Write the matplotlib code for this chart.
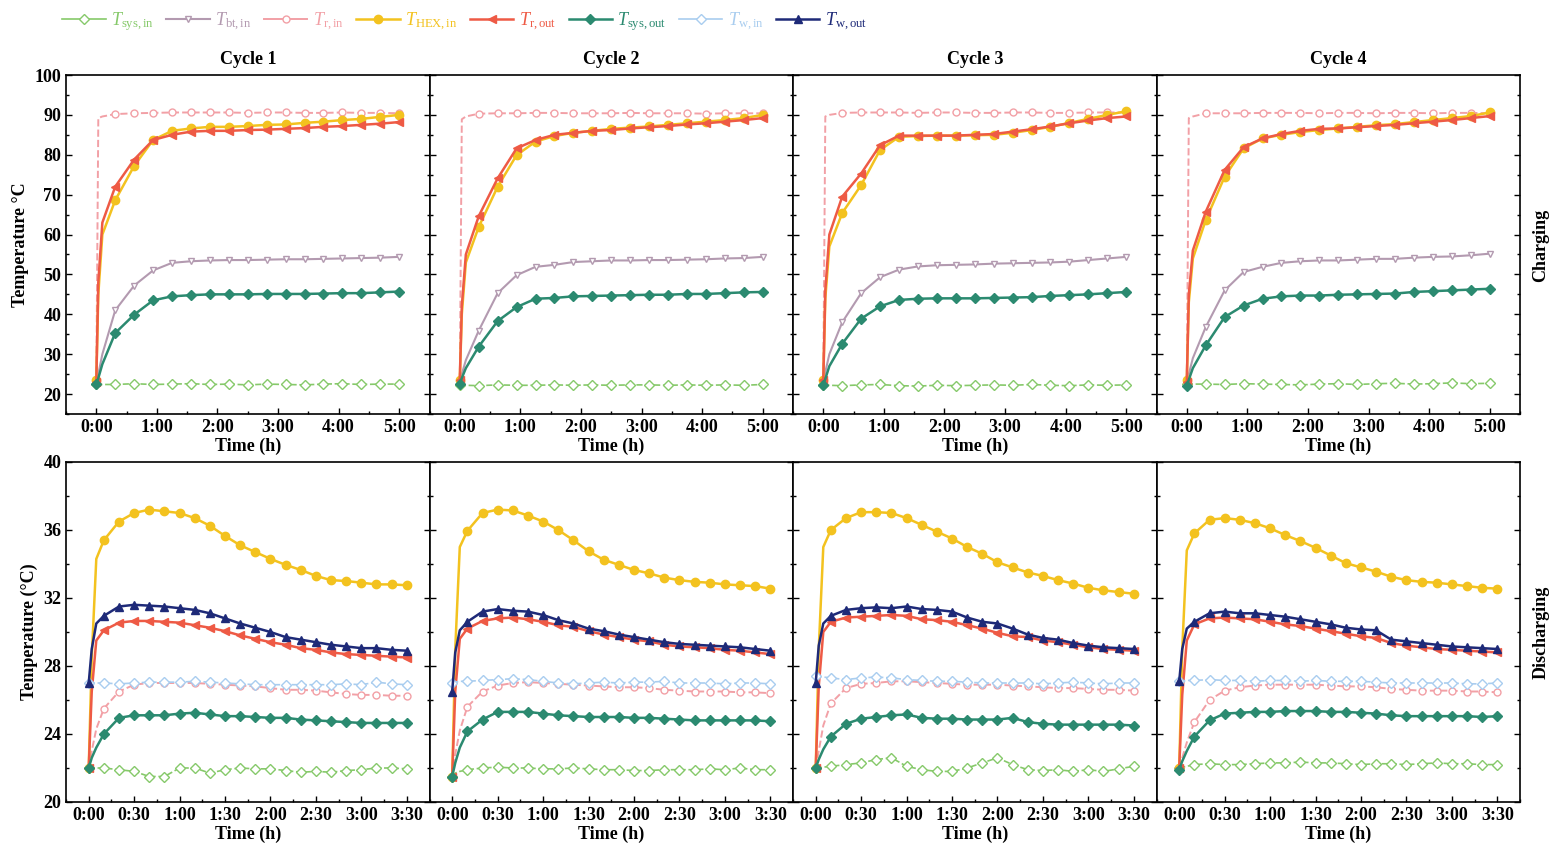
import matplotlib
matplotlib.use('Agg')
import matplotlib.pyplot as plt
from matplotlib.lines import Line2D
from matplotlib.ticker import MultipleLocator

plt.rcParams['font.family'] = ['Liberation Serif', 'DejaVu Serif']
plt.rcParams['mathtext.fontset'] = 'custom'
plt.rcParams['mathtext.rm'] = 'Liberation Serif'
plt.rcParams['mathtext.it'] = 'Liberation Serif:italic'

# ---- data (minutes, deg C) ----
CYCLES = ["Cycle 1", "Cycle 2", "Cycle 3", "Cycle 4"]

# charging: 0..300 min, markers every 18.75 min (+2 early points without marker)
TC = [0, 2, 6, 18.75, 37.5, 56.25, 75, 93.75, 112.5, 131.25, 150, 168.75,
      187.5, 206.25, 225, 243.75, 262.5, 281.25, 300]
TC_TICKS = [0, 60, 120, 180, 240, 300]
TC_LABELS = ["0:00", "1:00", "2:00", "3:00", "4:00", "5:00"]

CH_SYS_IN = [
    [22.5, 22.5, 22.4, 22.4, 22.6, 22.4, 22.5, 22.6, 22.4, 22.5, 22.3, 22.5, 22.4, 22.3, 22.5, 22.6, 22.4, 22.5, 22.5],
    [22.3, 22.3, 22.2, 22.1, 22.3, 22.2, 22.2, 22.3, 22.2, 22.3, 22.2, 22.3, 22.3, 22.2, 22.3, 22.2, 22.3, 22.2, 22.4],
    [22.3, 22.3, 22.2, 22.1, 22.3, 22.4, 22.1, 22.0, 22.2, 22.1, 22.2, 22.3, 22.2, 22.4, 22.2, 22.1, 22.3, 22.2, 22.3],
    [22.4, 22.4, 22.5, 22.5, 22.4, 22.6, 22.5, 22.4, 22.3, 22.5, 22.6, 22.4, 22.6, 22.7, 22.5, 22.6, 22.8, 22.6, 22.7],
]
CH_BT_IN = [
    [23.0, 25.0, 30.0, 41.0, 47.2, 51.0, 52.9, 53.3, 53.5, 53.6, 53.6, 53.7, 53.8, 53.8, 53.9, 54.0, 54.1, 54.2, 54.4],
    [23.0, 25.0, 28.5, 35.9, 45.3, 49.8, 51.9, 52.4, 53.1, 53.3, 53.5, 53.5, 53.6, 53.6, 53.7, 53.8, 54.0, 54.1, 54.4],
    [23.0, 25.5, 30.0, 38.0, 45.3, 49.3, 51.2, 52.0, 52.3, 52.4, 52.5, 52.7, 52.8, 52.9, 53.0, 53.2, 53.6, 54.0, 54.4],
    [23.0, 25.0, 29.0, 36.8, 46.0, 50.6, 51.9, 52.9, 53.3, 53.5, 53.5, 53.7, 53.9, 53.9, 54.2, 54.4, 54.5, 54.8, 55.2],
]
CH_R_IN = [
    [22.5, 89.2, 89.6, 90.2, 90.4, 90.5, 90.6, 90.6, 90.6, 90.6, 90.5, 90.6, 90.6, 90.5, 90.5, 90.6, 90.5, 90.5, 90.4],
    [23.5, 88.9, 89.6, 90.3, 90.4, 90.4, 90.5, 90.5, 90.4, 90.4, 90.4, 90.5, 90.4, 90.4, 90.4, 90.3, 90.4, 90.4, 90.4],
    [23.5, 89.6, 90.0, 90.5, 90.6, 90.6, 90.6, 90.5, 90.6, 90.6, 90.5, 90.5, 90.6, 90.6, 90.5, 90.5, 90.6, 90.6, 90.6],
    [23.0, 89.2, 89.6, 90.4, 90.4, 90.4, 90.5, 90.5, 90.5, 90.4, 90.5, 90.5, 90.4, 90.5, 90.5, 90.4, 90.5, 90.5, 90.4],
]
CH_HEX_IN = [
    [23.5, 45.0, 60.0, 68.6, 77.2, 83.7, 86.0, 86.6, 87.0, 87.0, 87.2, 87.5, 87.6, 88.0, 88.3, 88.7, 89.0, 89.5, 90.0],
    [23.5, 40.0, 53.0, 61.9, 72.0, 79.9, 83.3, 84.7, 85.5, 86.0, 86.5, 86.8, 87.1, 87.5, 87.9, 88.3, 88.7, 89.2, 90.0],
    [23.5, 44.0, 57.0, 65.4, 72.4, 81.2, 84.5, 84.7, 84.8, 84.8, 84.9, 85.0, 85.5, 86.2, 87.0, 88.0, 89.0, 90.0, 90.9],
    [23.5, 43.0, 54.0, 63.6, 74.5, 81.6, 84.1, 85.0, 85.7, 86.2, 86.6, 87.0, 87.4, 87.7, 88.2, 88.7, 89.2, 89.7, 90.6],
]
CH_R_OUT = [
    [23.0, 48.0, 63.0, 72.0, 78.8, 83.7, 85.0, 85.8, 86.0, 86.0, 86.2, 86.3, 86.5, 86.7, 87.0, 87.2, 87.5, 87.8, 88.2],
    [23.5, 42.0, 55.0, 64.6, 74.1, 81.6, 83.7, 85.0, 85.5, 86.0, 86.2, 86.6, 86.9, 87.2, 87.6, 87.9, 88.3, 88.7, 89.2],
    [23.5, 46.0, 60.0, 69.5, 75.3, 82.4, 84.8, 84.8, 84.8, 84.8, 85.0, 85.2, 85.8, 86.4, 87.1, 87.9, 88.6, 89.2, 89.6],
    [23.0, 45.0, 56.0, 65.7, 76.2, 81.9, 84.1, 85.2, 86.0, 86.5, 86.6, 86.9, 87.2, 87.5, 87.9, 88.3, 88.7, 89.2, 89.7],
]
CH_SYS_OUT = [
    [22.5, 24.0, 27.5, 35.3, 39.9, 43.5, 44.5, 44.8, 45.0, 45.0, 45.0, 45.1, 45.1, 45.1, 45.2, 45.3, 45.3, 45.5, 45.7],
    [22.5, 24.0, 26.5, 31.9, 38.3, 41.8, 43.9, 44.1, 44.5, 44.6, 44.7, 44.8, 44.9, 44.9, 45.1, 45.1, 45.3, 45.5, 45.6],
    [22.3, 23.8, 27.0, 32.6, 38.9, 42.0, 43.6, 43.9, 44.0, 44.0, 44.0, 44.1, 44.2, 44.3, 44.6, 44.8, 45.0, 45.3, 45.6],
    [22.1, 23.6, 26.5, 32.2, 39.3, 42.2, 43.9, 44.5, 44.7, 44.7, 44.9, 45.0, 45.1, 45.2, 45.6, 45.8, 46.0, 46.2, 46.4],
]

# discharging: 0..210 min, markers every 10 min (+2 early points without marker)
TD = [0, 2, 5, 10, 20, 30, 40, 50, 60, 70, 80, 90, 100, 110, 120, 130, 140,
      150, 160, 170, 180, 190, 200, 210]
TD_TICKS = [0, 30, 60, 90, 120, 150, 180, 210]
TD_LABELS = ["0:00", "0:30", "1:00", "1:30", "2:00", "2:30", "3:00", "3:30"]

DC_SYS_IN = [
    [22.0, 22.0, 22.0, 22.0, 21.9, 21.8, 21.5, 21.5, 22.0, 22.0, 21.7, 21.9, 22.0, 21.95, 21.95, 21.85, 21.75, 21.8, 21.75, 21.85, 21.9, 22.0, 22.0, 21.95],
    [21.5, 21.7, 21.8, 21.9, 22.0, 22.05, 22.0, 22.0, 21.95, 21.95, 22.0, 21.95, 21.9, 21.9, 21.85, 21.85, 21.9, 21.9, 21.9, 21.95, 21.9, 22.0, 21.9, 21.9],
    [22.0, 22.0, 22.05, 22.1, 22.2, 22.3, 22.5, 22.6, 22.1, 21.9, 21.8, 21.8, 22.0, 22.3, 22.6, 22.2, 21.9, 21.85, 21.9, 21.8, 21.9, 21.8, 21.95, 22.1],
    [22.0, 22.05, 22.1, 22.2, 22.25, 22.2, 22.2, 22.25, 22.3, 22.3, 22.35, 22.3, 22.3, 22.25, 22.2, 22.25, 22.25, 22.2, 22.25, 22.3, 22.25, 22.25, 22.2, 22.2],
]
DC_R_IN = [
    [22.0, 23.0, 24.3, 25.5, 26.5, 26.9, 27.0, 27.0, 27.0, 27.0, 26.95, 26.9, 26.85, 26.8, 26.7, 26.6, 26.6, 26.55, 26.45, 26.35, 26.3, 26.3, 26.25, 26.25],
    [21.5, 22.8, 24.2, 25.6, 26.5, 26.85, 27.0, 27.05, 27.0, 26.95, 26.9, 26.85, 26.8, 26.75, 26.75, 26.7, 26.6, 26.55, 26.5, 26.5, 26.5, 26.45, 26.45, 26.4],
    [22.0, 23.0, 24.5, 25.8, 26.7, 26.95, 27.0, 27.1, 27.1, 27.05, 27.0, 26.95, 26.9, 26.9, 26.9, 26.85, 26.8, 26.75, 26.7, 26.7, 26.65, 26.6, 26.6, 26.55],
    [22.0, 22.6, 23.5, 24.7, 26.0, 26.55, 26.75, 26.85, 26.9, 26.9, 26.9, 26.9, 26.85, 26.8, 26.8, 26.75, 26.65, 26.6, 26.55, 26.55, 26.55, 26.5, 26.5, 26.45],
]
DC_HEX_IN = [
    [22.0, 28.5, 34.3, 35.4, 36.5, 37.0, 37.2, 37.1, 37.0, 36.7, 36.25, 35.65, 35.1, 34.7, 34.3, 33.95, 33.65, 33.3, 33.05, 33.0, 32.9, 32.8, 32.8, 32.75],
    [21.5, 29.0, 35.0, 35.95, 37.0, 37.2, 37.15, 36.85, 36.5, 36.0, 35.4, 34.75, 34.25, 33.95, 33.65, 33.45, 33.2, 33.05, 32.95, 32.9, 32.8, 32.75, 32.7, 32.55],
    [22.0, 29.0, 35.0, 36.0, 36.7, 37.05, 37.05, 37.0, 36.7, 36.3, 35.9, 35.5, 35.0, 34.6, 34.1, 33.8, 33.5, 33.3, 33.05, 32.85, 32.6, 32.45, 32.35, 32.25],
    [22.0, 29.0, 34.8, 35.8, 36.6, 36.7, 36.6, 36.4, 36.1, 35.7, 35.35, 34.95, 34.5, 34.05, 33.8, 33.55, 33.25, 33.05, 32.95, 32.9, 32.8, 32.7, 32.6, 32.55],
]
DC_R_OUT = [
    [22.0, 26.5, 29.5, 30.1, 30.55, 30.65, 30.65, 30.6, 30.55, 30.4, 30.25, 30.05, 29.8, 29.6, 29.4, 29.25, 29.05, 28.95, 28.8, 28.7, 28.65, 28.6, 28.55, 28.5],
    [21.5, 26.5, 29.6, 30.2, 30.65, 30.8, 30.85, 30.75, 30.6, 30.4, 30.3, 30.05, 29.85, 29.7, 29.55, 29.45, 29.25, 29.15, 29.1, 29.05, 28.95, 28.9, 28.8, 28.7],
    [22.0, 26.8, 30.0, 30.6, 30.85, 30.9, 30.95, 31.0, 30.95, 30.75, 30.7, 30.6, 30.4, 30.2, 29.95, 29.75, 29.7, 29.5, 29.4, 29.25, 29.1, 29.0, 28.95, 28.9],
    [22.0, 26.3, 29.5, 30.45, 30.8, 30.85, 30.8, 30.75, 30.6, 30.45, 30.35, 30.2, 30.05, 29.9, 29.75, 29.65, 29.35, 29.2, 29.1, 29.0, 28.95, 28.9, 28.85, 28.8],
]
DC_SYS_OUT = [
    [22.0, 22.6, 23.2, 24.0, 24.95, 25.1, 25.1, 25.1, 25.2, 25.25, 25.15, 25.05, 25.05, 25.0, 24.95, 24.95, 24.85, 24.8, 24.75, 24.7, 24.65, 24.65, 24.65, 24.65],
    [21.5, 22.3, 23.2, 24.15, 24.85, 25.3, 25.3, 25.3, 25.2, 25.1, 25.05, 25.0, 25.0, 25.0, 24.95, 24.95, 24.9, 24.85, 24.8, 24.8, 24.8, 24.8, 24.8, 24.75],
    [22.0, 22.5, 23.1, 23.85, 24.6, 24.9, 25.0, 25.1, 25.15, 24.95, 24.9, 24.9, 24.85, 24.85, 24.85, 24.95, 24.7, 24.6, 24.55, 24.55, 24.55, 24.55, 24.55, 24.5],
    [21.9, 22.4, 23.0, 23.85, 24.8, 25.2, 25.25, 25.3, 25.3, 25.35, 25.35, 25.35, 25.3, 25.3, 25.25, 25.2, 25.1, 25.05, 25.05, 25.05, 25.05, 25.05, 25.0, 25.05],
]
DC_W_IN = [
    [27.0, 27.0, 27.0, 27.0, 26.95, 27.0, 27.05, 27.05, 27.05, 27.1, 27.05, 27.0, 26.95, 26.9, 26.9, 26.9, 26.9, 26.9, 26.9, 26.95, 26.9, 27.05, 26.95, 26.9],
    [27.0, 27.05, 27.1, 27.1, 27.15, 27.2, 27.25, 27.2, 27.1, 27.0, 26.95, 27.0, 27.05, 27.0, 27.05, 27.05, 27.1, 27.0, 27.0, 27.0, 26.95, 27.0, 27.0, 26.95],
    [27.4, 27.4, 27.35, 27.3, 27.2, 27.3, 27.35, 27.3, 27.2, 27.15, 27.1, 27.1, 27.05, 27.0, 27.0, 27.0, 27.0, 26.95, 27.0, 27.05, 27.0, 26.95, 27.0, 27.0],
    [27.1, 27.1, 27.15, 27.15, 27.2, 27.15, 27.15, 27.1, 27.15, 27.15, 27.1, 27.15, 27.1, 27.1, 27.1, 27.05, 27.0, 27.0, 27.0, 27.0, 27.0, 26.95, 26.95, 27.0],
]
DC_W_OUT = [
    [27.0, 29.0, 30.5, 30.95, 31.5, 31.6, 31.55, 31.5, 31.4, 31.3, 31.1, 30.8, 30.5, 30.25, 30.0, 29.7, 29.55, 29.4, 29.25, 29.15, 29.05, 29.05, 28.95, 28.9],
    [26.5, 28.8, 30.1, 30.6, 31.2, 31.35, 31.25, 31.2, 31.0, 30.7, 30.5, 30.2, 30.05, 29.85, 29.7, 29.55, 29.4, 29.3, 29.25, 29.2, 29.15, 29.1, 29.0, 28.9],
    [27.0, 29.2, 30.5, 30.95, 31.3, 31.4, 31.45, 31.4, 31.5, 31.35, 31.3, 31.2, 30.85, 30.6, 30.5, 30.2, 29.85, 29.65, 29.55, 29.35, 29.2, 29.1, 29.05, 29.0],
    [27.1, 29.0, 30.2, 30.6, 31.1, 31.2, 31.1, 31.1, 31.0, 30.9, 30.75, 30.6, 30.45, 30.25, 30.15, 30.1, 29.55, 29.45, 29.35, 29.25, 29.15, 29.1, 29.05, 29.0],
]

# ---- styles ----
STYLE = {
    'sys_in':  dict(color='#86c96a', ls='--', marker='D', mfc='white', ms=5, lw=1.2, label=r'$T_{\mathrm{sys,in}}$'),
    'bt_in':   dict(color='#b39ab0', ls='-',  marker='v', mfc='white', ms=5, lw=1.5, label=r'$T_{\mathrm{bt,in}}$'),
    'r_in':    dict(color='#f2a0a6', ls='--', marker='o', mfc='white', ms=5, lw=1.4, label=r'$T_{\mathrm{r,in}}$'),
    'hex_in':  dict(color='#f3c21f', ls='-',  marker='o', mfc='#f3c21f', ms=6, lw=1.8, label=r'$T_{\mathrm{HEX,in}}$'),
    'r_out':   dict(color='#ee5a45', ls='-',  marker='<', mfc='#ee5a45', ms=6, lw=1.8, label=r'$T_{\mathrm{r,out}}$'),
    'sys_out': dict(color='#2b8a70', ls='-',  marker='D', mfc='#2b8a70', ms=5.5, lw=1.8, label=r'$T_{\mathrm{sys,out}}$'),
    'w_in':    dict(color='#a9cdef', ls='--', marker='D', mfc='white', ms=5, lw=1.2, label=r'$T_{\mathrm{w,in}}$'),
    'w_out':   dict(color='#1e2a78', ls='-',  marker='^', mfc='#1e2a78', ms=6, lw=1.8, label=r'$T_{\mathrm{w,out}}$'),
}
LEGEND_ORDER = ['sys_in', 'bt_in', 'r_in', 'hex_in', 'r_out', 'sys_out', 'w_in', 'w_out']

charge_series = [('sys_in', CH_SYS_IN), ('bt_in', CH_BT_IN), ('r_in', CH_R_IN),
                 ('hex_in', CH_HEX_IN), ('r_out', CH_R_OUT), ('sys_out', CH_SYS_OUT)]
discharge_series = [('sys_in', DC_SYS_IN), ('r_in', DC_R_IN), ('hex_in', DC_HEX_IN),
                    ('r_out', DC_R_OUT), ('sys_out', DC_SYS_OUT), ('w_in', DC_W_IN),
                    ('w_out', DC_W_OUT)]

fig = plt.figure(figsize=(15.54, 8.56), dpi=100)
W, H = 1554, 856
left0, pw = 66 / W, 363.5 / W


def style_axis(ax, first):
    ax.tick_params(which='both', direction='in', left=True, right=True, top=False,
                   labelsize=13, width=1.0)
    ax.tick_params(which='major', length=4)
    ax.tick_params(which='minor', length=2.5)
    for s in ax.spines.values():
        s.set_linewidth(1.2)
    for lbl in ax.get_xticklabels() + ax.get_yticklabels():
        lbl.set_fontweight('bold')
    if not first:
        ax.tick_params(labelleft=False)


for i in range(4):
    # charging row
    ax = fig.add_axes([left0 + i * pw, 1 - 414 / H, pw, 339 / H])
    for key, data in charge_series:
        st = STYLE[key]
        ax.plot(TC, data[i], color=st['color'], ls=st['ls'], lw=st['lw'], marker=st['marker'],
                ms=st['ms'], mfc=st['mfc'], mec=st['color'], mew=1.0,
                markevery=[0] + list(range(3, len(TC))))
    ax.set_xlim(-30, 330)
    ax.set_ylim(15, 100)
    ax.set_xticks(TC_TICKS)
    ax.set_xticklabels(TC_LABELS)
    ax.xaxis.set_minor_locator(MultipleLocator(30))
    ax.set_yticks([20, 30, 40, 50, 60, 70, 80, 90, 100])
    ax.yaxis.set_minor_locator(MultipleLocator(5))
    style_axis(ax, i == 0)
    ax.set_xlabel('Time (h)', fontsize=13, fontweight='bold', labelpad=1)
    ax.set_title(CYCLES[i], fontsize=13, fontweight='bold', pad=8)
    if i == 0:
        ax.set_ylabel('Temperature \u00b0C', fontsize=13, fontweight='bold', labelpad=4)

    # discharging row
    ax = fig.add_axes([left0 + i * pw, 1 - 802 / H, pw, 340 / H])
    for key, data in discharge_series:
        st = STYLE[key]
        ax.plot(TD, data[i], color=st['color'], ls=st['ls'], lw=st['lw'], marker=st['marker'],
                ms=st['ms'], mfc=st['mfc'], mec=st['color'], mew=1.0,
                markevery=[0] + list(range(3, len(TD))))
    ax.set_xlim(-15, 225)
    ax.set_ylim(20, 40)
    ax.set_xticks(TD_TICKS)
    ax.set_xticklabels(TD_LABELS)
    ax.xaxis.set_minor_locator(MultipleLocator(15))
    ax.set_yticks([20, 24, 28, 32, 36, 40])
    ax.yaxis.set_minor_locator(MultipleLocator(2))
    style_axis(ax, i == 0)
    ax.set_xlabel('Time (h)', fontsize=13, fontweight='bold', labelpad=1)
    if i == 0:
        ax.set_ylabel('Temperature (\u00b0C)', fontsize=13, fontweight='bold', labelpad=4)

fig.text(1541 / W, 1 - 245 / H, 'Charging', rotation=90, ha='center', va='center',
         fontsize=13, fontweight='bold')
fig.text(1541 / W, 1 - 632 / H, 'Discharging', rotation=90, ha='center', va='center',
         fontsize=13, fontweight='bold')

handles = []
for key in LEGEND_ORDER:
    st = STYLE[key]
    handles.append(Line2D([], [], color=st['color'], ls='-', lw=st['lw'], marker=st['marker'],
                          ms=st['ms'], mfc=st['mfc'], mec=st['color'], label=st['label']))
fig.legend(handles=handles, loc='center left', bbox_to_anchor=(55 / W, 1 - 22 / H), ncol=8,
           frameon=False, fontsize=13, handlelength=2.4, handletextpad=0.3,
           columnspacing=0.7, labelcolor='linecolor', borderaxespad=0)

fig.savefig('out.png', dpi=100, facecolor='white')
